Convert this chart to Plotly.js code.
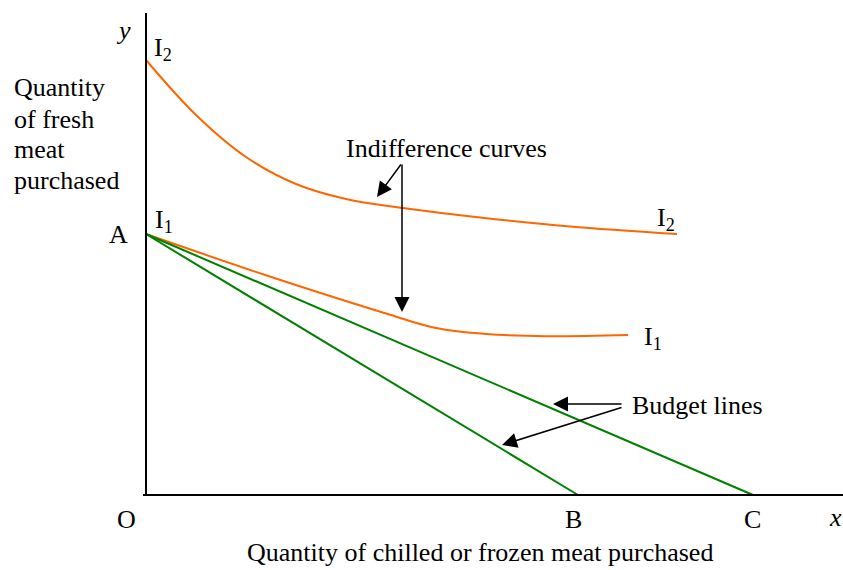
<!DOCTYPE html>
<html>
<head>
<meta charset="utf-8">
<script src="https://cdn.plot.ly/plotly-3.0.1.min.js"></script>
<style>html,body{margin:0;padding:0;background:#fff;}#chart{width:843px;height:570px;}</style>
</head>
<body>
<div id="chart"></div>
<script>
// Data (units: chart units measured from origin O)
const i2X = [0, 50, 100, 150, 200, 257, 334, 424, 531];
const i2Y = [435, 380, 338, 311, 296, 287, 277.5, 268.5, 261];
const i1X = [0, 120, 240, 290, 340, 400, 482];
const i1Y = [261, 219.7, 181.5, 167, 161, 158.8, 160];
const budgetAB_X = [0, 432];
const budgetAB_Y = [261, 0];
const budgetAC_X = [0, 607];
const budgetAC_Y = [261, 0];

const orange = '#FF6600';
const green = '#008000';
const FONT = 'Liberation Serif, Times New Roman, serif';

const traces = [
  {x: i2X, y: i2Y, mode: 'lines', line: {color: orange, width: 2, shape: 'spline', smoothing: 1}, hoverinfo: 'skip'},
  {x: i1X, y: i1Y, mode: 'lines', line: {color: orange, width: 2, shape: 'spline', smoothing: 1}, hoverinfo: 'skip'},
  {x: budgetAB_X, y: budgetAB_Y, mode: 'lines', line: {color: green, width: 2}, hoverinfo: 'skip'},
  {x: budgetAC_X, y: budgetAC_Y, mode: 'lines', line: {color: green, width: 2}, hoverinfo: 'skip'}
];

function label(text, x, y, xanchor, extra) {
  return Object.assign({text: text, x: x, y: y, xref: 'x', yref: 'y', showarrow: false,
    xanchor: xanchor || 'center', yanchor: 'middle', font: {family: FONT, size: 26, color: '#000'}}, extra || {});
}
function arrow(tx, ty, fx, fy) {
  return {x: tx, y: ty, ax: fx, ay: fy, xref: 'x', yref: 'y', axref: 'x', ayref: 'y', text: '',
    showarrow: true, arrowhead: 2, arrowsize: 2, arrowwidth: 1.5, arrowcolor: '#000'};
}

const annotations = [
  label('<i>y</i>', -23, 465),
  label('I<sub>2</sub>', 6, 446, 'left'),
  label('Quantity', -134, 408, 'left'),
  label('of fresh', -134, 376, 'left'),
  label('meat', -134, 346, 'left'),
  label('purchased', -134, 315, 'left'),
  label('A', -16, 261, 'right'),
  label('I<sub>1</sub>', 7, 274, 'left'),
  label('Indifference curves', 300, 347),
  label('I<sub>2</sub>', 509, 276, 'left'),
  label('I<sub>1</sub>', 496, 157, 'left'),
  label('Budget lines', 484, 90, 'left'),
  label('O', -20, -24),
  label('B', 427, -24),
  label('C', 606, -24),
  label('<i>x</i>', 689, -22),
  label('Quantity of chilled or frozen meat purchased', 334, -57),
  arrow(231, 298, 256, 332),
  arrow(256, 183, 256, 332),
  arrow(407, 91, 477, 91),
  arrow(356, 50, 477, 88)
];

const shapes = [
  {type: 'line', xref: 'x', yref: 'y', x0: -3, y0: 0, x1: 697, y1: 0, line: {color: '#000', width: 2}},
  {type: 'line', xref: 'x', yref: 'y', x0: 0, y0: 0, x1: 0, y1: 482, line: {color: '#000', width: 2}}
];

const layout = {
  width: 843, height: 570,
  margin: {l: 0, r: 0, t: 0, b: 0, pad: 0},
  paper_bgcolor: '#fff', plot_bgcolor: '#fff',
  showlegend: false,
  xaxis: {range: [-146, 697], visible: false, fixedrange: true},
  yaxis: {range: [-75, 495], visible: false, fixedrange: true},
  annotations: annotations,
  shapes: shapes
};

Plotly.newPlot('chart', traces, layout, {displayModeBar: false, staticPlot: true});
</script>
</body>
</html>
